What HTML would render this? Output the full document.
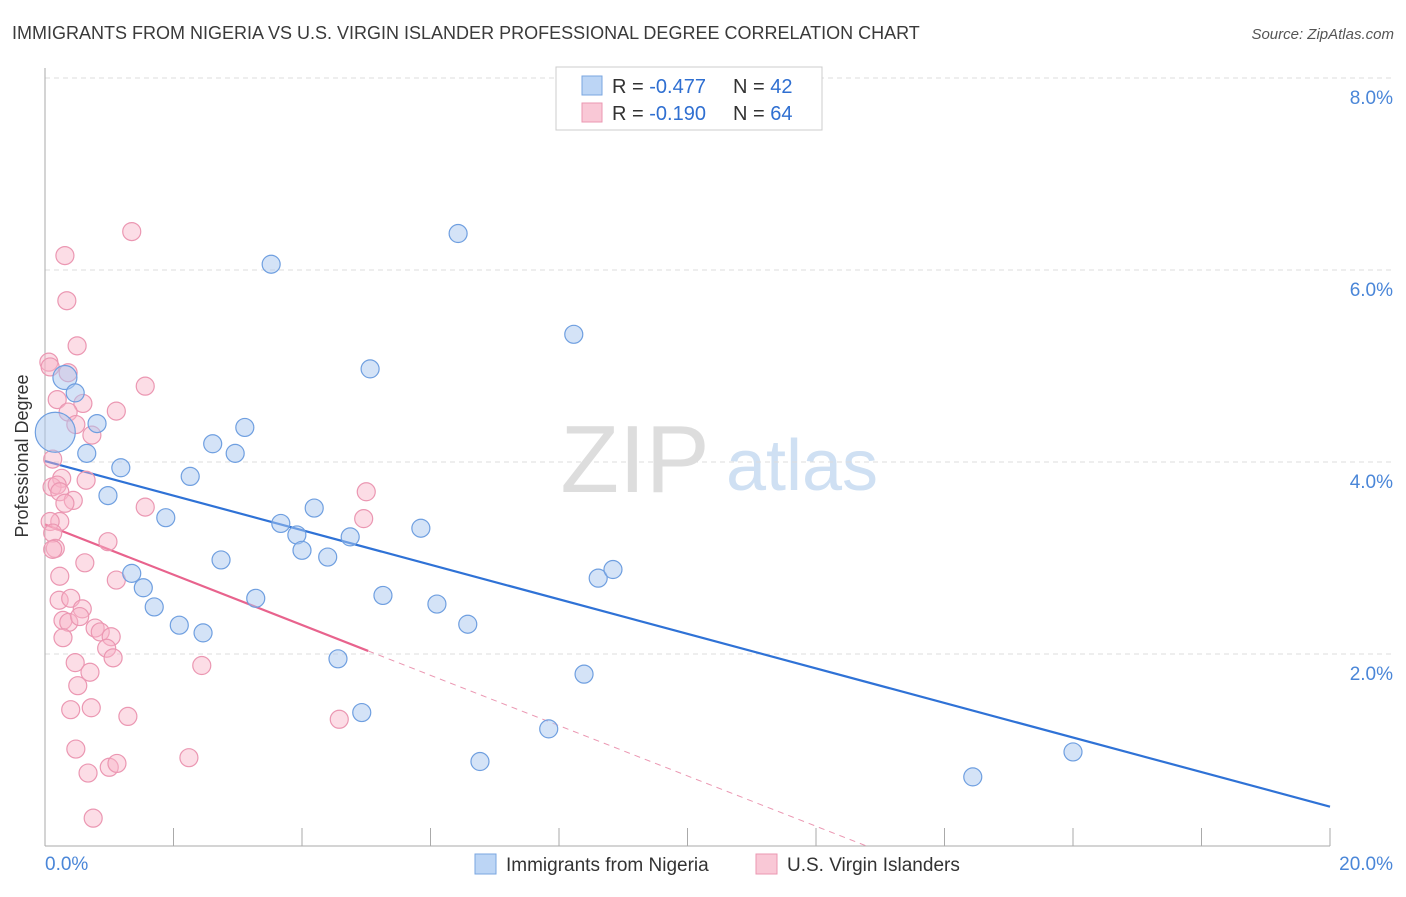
<!DOCTYPE html>
<html><head><meta charset="utf-8"><style>
body{margin:0;background:#fff;font-family:"Liberation Sans",sans-serif;}
svg text{font-family:"Liberation Sans",sans-serif;}
</style></head><body>
<svg id="chart" width="1406" height="892">
<text x="12" y="39" font-size="18" fill="#3a3a3a">IMMIGRANTS FROM NIGERIA VS U.S. VIRGIN ISLANDER PROFESSIONAL DEGREE CORRELATION CHART</text>
<text x="1394" y="39" font-size="15" fill="#555" text-anchor="end" font-style="italic">Source: ZipAtlas.com</text>
<g>
<text x="635" y="492" font-size="96" fill="#ddd" font-family="Liberation Serif,serif" text-anchor="middle">ZIP</text>
<text x="802" y="490" font-size="72" fill="#cfe0f3" text-anchor="middle">atlas</text>
</g>
<g id="grid"></g><g id="axes"></g><g id="trends"></g><g id="points"></g>
<text x="28" y="456" font-size="18" fill="#333" text-anchor="middle" transform="rotate(-90 28 456)">Professional Degree</text>
<g>
<rect x="556" y="67" width="266" height="63" fill="#fff" stroke="#ccc"/>
<rect x="582" y="76" width="20" height="19" fill="#bcd5f5" stroke="#7aa6e0"/>
<rect x="582" y="103" width="20" height="19" fill="#f9c8d6" stroke="#eb97b2"/>
<text x="612" y="93" font-size="20" fill="#333">R = <tspan fill="#2f6fd1">-0.477</tspan></text>
<text x="733" y="93" font-size="20" fill="#333">N = <tspan fill="#2f6fd1">42</tspan></text>
<text x="612" y="120" font-size="20" fill="#333">R = <tspan fill="#2f6fd1"> -0.190</tspan></text>
<text x="733" y="120" font-size="20" fill="#333">N = <tspan fill="#2f6fd1">64</tspan></text>
</g>
<g>
<rect x="475" y="854" width="21" height="20" fill="#bcd5f5" stroke="#7aa6e0"/>
<text x="506" y="871" font-size="19" fill="#333">Immigrants from Nigeria</text>
<rect x="756" y="854" width="21" height="20" fill="#f9c8d6" stroke="#eb97b2"/>
<text x="787" y="871" font-size="19" fill="#333">U.S. Virgin Islanders</text>
</g>
</svg>
<script>
const yTicks=[2,4,6,8];
const yTickLabels=["2.0%","4.0%","6.0%","8.0%"];
const xTickVals=[0,2,4,6,8,10,12,14,16,18,20];
const xEndLabels=["0.0%","20.0%"];
const blueX=[0.31,0.47,0.81,0.16,0.65,1.18,0.98,1.88,2.26,2.61,2.96,3.11,3.52,6.43,8.23,5.06,2.74,1.35,1.53,1.70,2.09,2.46,3.28,3.67,3.92,4.00,4.19,4.40,4.75,4.56,5.26,5.85,6.10,6.58,4.93,6.77,7.84,8.39,8.61,8.84,14.44,16.00];
const blueY=[4.88,4.72,4.40,4.31,4.09,3.94,3.65,3.42,3.85,4.19,4.09,4.36,6.06,6.38,5.33,4.97,2.98,2.84,2.69,2.49,2.30,2.22,2.58,3.36,3.24,3.08,3.52,3.01,3.22,1.95,2.61,3.31,2.52,2.31,1.39,0.88,1.22,1.79,2.79,2.88,0.72,0.98];
const blueR=[12,9,9,20,9,9,9,9,9,9,9,9,9,9,9,9,9,9,9,9,9,9,9,9,9,9,9,9,9,9,9,9,9,9,9,9,9,9,9,9,9,9];
const pinkX=[1.35,0.31,0.34,0.50,0.06,0.08,0.36,1.56,0.19,0.59,0.36,1.11,0.48,0.73,0.12,0.26,0.64,0.11,0.19,0.23,0.44,0.31,1.56,5.00,4.96,0.23,0.08,0.12,0.98,0.16,0.12,0.62,1.11,0.23,0.22,0.40,0.58,0.28,0.37,0.54,0.78,0.86,1.03,0.28,0.96,1.06,2.44,0.47,0.70,0.51,0.40,0.72,1.29,4.58,2.24,0.48,0.67,1.00,1.12,0.75];
const pinkY=[6.40,6.15,5.68,5.21,5.04,4.99,4.93,4.79,4.65,4.61,4.52,4.53,4.39,4.28,4.03,3.83,3.81,3.74,3.76,3.69,3.60,3.57,3.53,3.69,3.41,3.38,3.38,3.26,3.17,3.10,3.09,2.95,2.77,2.81,2.56,2.58,2.47,2.35,2.33,2.39,2.27,2.23,2.18,2.17,2.06,1.96,1.88,1.91,1.81,1.67,1.42,1.44,1.35,1.32,0.92,1.01,0.76,0.82,0.86,0.29];
const blueTrend=[4.01,-0.18];
const pinkTrend=[3.35,-0.262];
const pinkSolidEnd=5.03;
const NS="http://www.w3.org/2000/svg";
const X0=45,X1=1330,Y0=846,PPY=96;
function sx(v){return X0+(X1-X0)*v/20;}
function sy(v){return Y0-v*PPY;}
function mk(parent,tag,attrs){const e=document.createElementNS(NS,tag);for(const k in attrs)e.setAttribute(k,attrs[k]);document.getElementById(parent).appendChild(e);return e;}
yTicks.forEach((t,i)=>{
 const l=mk('grid','line',{x1:45,x2:1392,y1:sy(t),y2:sy(t),stroke:'#ddd','stroke-dasharray':'5,4'});
 
 
 const tx=mk('grid','text',{x:1393,y:sy(t)+26,'font-size':19,fill:'#4a86d8','text-anchor':'end'});
 tx.textContent=yTickLabels[i];
 
 
});
const ya=mk('axes','line',{x1:45,x2:45,y1:68,y2:846,stroke:'#aaa'});


const xa=mk('axes','line',{x1:45,x2:1330,y1:846,y2:846,stroke:'#aaa'});


xTickVals.forEach(v=>{
 const t=mk('axes','line',{x1:sx(v),x2:sx(v),y1:828,y2:846,stroke:'#aaa'});
 
 
});
[[0,'start',45],[20,'end',1393]].forEach((d,i)=>{
 const t=mk('axes','text',{x:d[2],y:870,'font-size':19,fill:'#4a86d8','text-anchor':d[1]});
 t.textContent=xEndLabels[i];
 
 
});
pinkX.forEach((x,i)=>{
 const c=mk('points','circle',{cx:sx(x),cy:sy(pinkY[i]),r:9,fill:'rgba(248,180,200,0.45)',stroke:'#eb97b2','stroke-width':1.2});
 
 
});
blueX.forEach((x,i)=>{
 const c=mk('points','circle',{cx:sx(x),cy:sy(blueY[i]),r:blueR[i],fill:'rgba(170,200,240,0.5)',stroke:'#6f9fe0','stroke-width':1.2});
 
 
});
const bl=mk('trends','line',{x1:sx(0),y1:sy(blueTrend[0]),x2:sx(20),y2:sy(blueTrend[0]+blueTrend[1]*20),stroke:'#2f72d6','stroke-width':2.2});


const pl=mk('trends','line',{x1:sx(0),y1:sy(pinkTrend[0]),x2:sx(pinkSolidEnd),y2:sy(pinkTrend[0]+pinkTrend[1]*pinkSolidEnd),stroke:'#e8638d','stroke-width':2.2});


const xz=-pinkTrend[0]/pinkTrend[1];
const pd=mk('trends','line',{x1:sx(pinkSolidEnd),y1:sy(pinkTrend[0]+pinkTrend[1]*pinkSolidEnd),x2:sx(xz),y2:sy(0),stroke:'#eb97b2','stroke-width':1,'stroke-dasharray':'6,5'});


</script>
</body></html>
